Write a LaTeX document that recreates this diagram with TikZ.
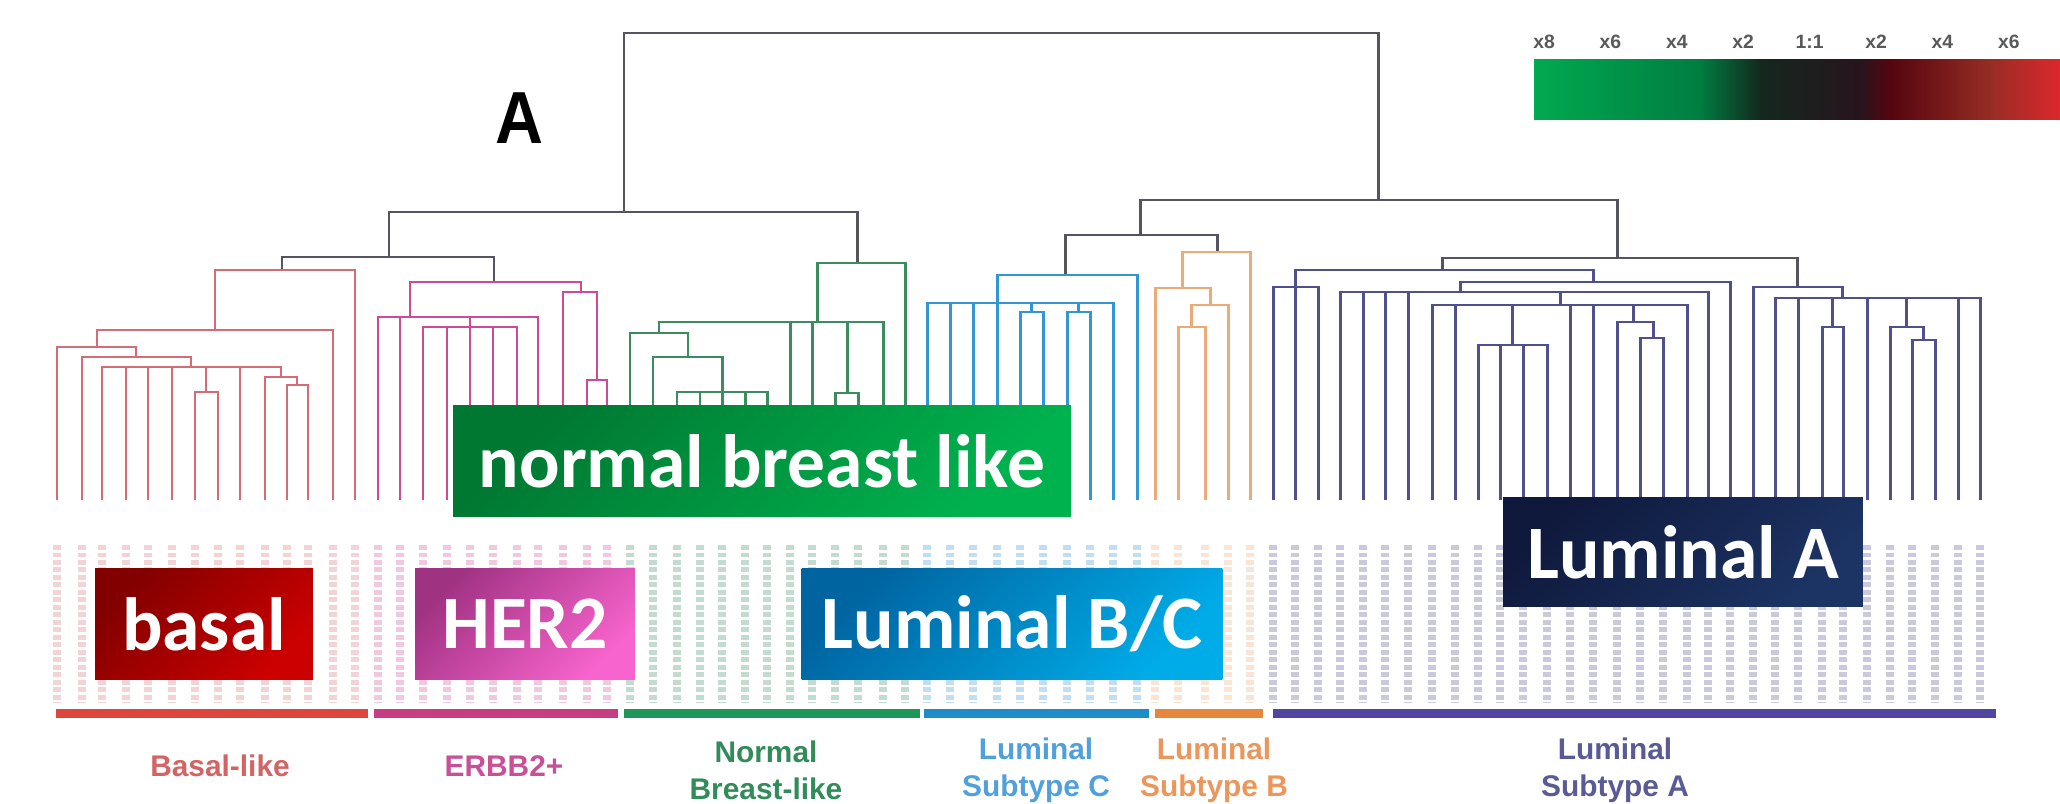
\documentclass[tikz,border=0pt]{standalone}
\usepackage{fontspec}
\setmainfont{Liberation Sans}
\newfontfamily\boxfont{Carlito}
\usepackage{tikz}
\usetikzlibrary{calc}

\definecolor{topgrey}{RGB}{85,85,95}
\definecolor{bascol}{RGB}{212,108,118}
\definecolor{hercol}{RGB}{205,75,150}
\definecolor{nrmcol}{RGB}{60,140,95}
\definecolor{lmccol}{RGB}{50,150,210}
\definecolor{lmbcol}{RGB}{235,170,120}
\definecolor{lmacol}{RGB}{80,80,140}

\tikzset{
  twig/.style={line width=1.7pt},
  tag/.style={line width=0.17cm, dash pattern=on 0.1cm off 0.05cm, opacity=0.3},
  bar/.style={line width=0.18cm},
  grp/.style={font=\fontsize{17}{21}\selectfont\bfseries, align=center, inner sep=0pt},
  lbox/.style={font=\boxfont\fontsize{43}{50}\selectfont\bfseries, text=white, inner sep=0pt,
    minimum height=2.22cm, shading angle=45},
  tick/.style={font=\fontsize{11}{12}\selectfont\bfseries, text=black!65, inner sep=0pt}
}

\begin{document}
\begin{tikzpicture}[x=0.02cm, y=-0.02cm]
	\useasboundingbox (0,0) rectangle (2060,804);

	% upper levels
	\draw[twig, topgrey] (624,212) |- (1378,33) -- (1378,200);
	\draw[twig, topgrey] (389,257) |- (857,212) -- (857,263);
	\draw[twig, topgrey] (1140,235) |- (1617,200) -- (1617,258);
	\draw[twig, topgrey] (282,270) |- (494,257) -- (494,282);
	\draw[twig, topgrey] (1065,275) |- (1217,235) -- (1217,252);
	\draw[twig, topgrey] (1442,270) |- (1797,258) -- (1797,287);

	% basal-like
	\draw[twig, bascol] (215,330) |- (355,270) -- (355,500);
	\draw[twig, bascol] (97,347) |- (333,330) -- (333,500);
	\draw[twig, bascol] (57,500) |- (136,347) -- (136,357);
	\draw[twig, bascol] (82,500) |- (191,357) -- (191,367);
	\draw[twig, bascol] (102,500) |- (281,367) -- (281,377);
	\foreach \x in {126,148,172,240}
		\draw[twig, bascol] (\x,367) -- (\x,500);
	\draw[twig, bascol] (206,367) -- (206,392);
	\draw[twig, bascol] (195,500) |- (218,392) -- (218,500);
	\draw[twig, bascol] (265,500) |- (297,377) -- (297,385);
	\draw[twig, bascol] (287,500) |- (308,385) -- (308,500);

	% ERBB2+
	\draw[twig, hercol] (410,317) |- (581,282) -- (581,292);
	\draw[twig, hercol] (378,500) |- (538,317) -- (538,500);
	\draw[twig, hercol] (400,317) -- (400,500);
	\draw[twig, hercol] (470,317) -- (470,327);
	\draw[twig, hercol] (423,500) |- (517,327) -- (517,500);
	\foreach \x in {447,470,493}
		\draw[twig, hercol] (\x,327) -- (\x,500);
	\draw[twig, hercol] (563,500) |- (597,292) -- (597,380);
	\draw[twig, hercol] (587,500) |- (607,380) -- (607,500);

	% normal breast-like
	\draw[twig, nrmcol] (817,322) |- (905,263) -- (905,500);
	\draw[twig, nrmcol] (659,333) |- (883,322) -- (883,500);
	\foreach \x in {790,812}
		\draw[twig, nrmcol] (\x,322) -- (\x,500);
	\draw[twig, nrmcol] (847,322) -- (847,393);
	\draw[twig, nrmcol] (835,500) |- (858,393) -- (858,500);
	\draw[twig, nrmcol] (630,500) |- (688,333) -- (688,357);
	\draw[twig, nrmcol] (653,500) |- (722,357) -- (722,392);
	\draw[twig, nrmcol] (677,500) |- (767,392) -- (767,500);
	\foreach \x in {700,722,745}
		\draw[twig, nrmcol] (\x,392) -- (\x,500);

	% luminal C
	\draw[twig, lmccol] (997,303) |- (1137,275) -- (1137,500);
	\draw[twig, lmccol] (927,500) |- (1113,303) -- (1113,500);
	\foreach \x in {950,973,997}
		\draw[twig, lmccol] (\x,303) -- (\x,500);
	\draw[twig, lmccol] (1031,303) -- (1031,312);
	\draw[twig, lmccol] (1020,500) |- (1043,312) -- (1043,500);
	\draw[twig, lmccol] (1078,303) -- (1078,312);
	\draw[twig, lmccol] (1067,500) |- (1090,312) -- (1090,500);

	% luminal B
	\draw[twig, lmbcol] (1182,288) |- (1250,252) -- (1250,500);
	\draw[twig, lmbcol] (1155,500) |- (1210,288) -- (1210,305);
	\draw[twig, lmbcol] (1191,327) |- (1228,305) -- (1228,500);
	\draw[twig, lmbcol] (1178,500) |- (1205,327) -- (1205,500);

	% luminal A
	\draw[twig, lmacol] (1295,287) |- (1593,270) -- (1593,282);
	\draw[twig, lmacol] (1273,500) |- (1318,287) -- (1318,500);
	\draw[twig, lmacol] (1295,287) -- (1295,500);
	\draw[twig, lmacol] (1460,292) |- (1730,282) -- (1730,500);
	\draw[twig, lmacol] (1340,500) |- (1708,292) -- (1708,500);
	\foreach \x in {1363,1385,1408}
		\draw[twig, lmacol] (\x,292) -- (\x,500);
	\draw[twig, lmacol] (1560,292) -- (1560,305);
	\draw[twig, lmacol] (1432,500) |- (1687,305) -- (1687,500);
	\foreach \x in {1455,1570,1593}
		\draw[twig, lmacol] (\x,305) -- (\x,500);
	\draw[twig, lmacol] (1512,305) -- (1512,345);
	\draw[twig, lmacol] (1478,500) |- (1547,345) -- (1547,500);
	\foreach \x in {1500,1523}
		\draw[twig, lmacol] (\x,345) -- (\x,500);
	\draw[twig, lmacol] (1633,305) -- (1633,322);
	\draw[twig, lmacol] (1617,500) |- (1653,322) -- (1653,338);
	\draw[twig, lmacol] (1640,500) |- (1663,338) -- (1663,500);
	\draw[twig, lmacol] (1753,500) |- (1842,287) -- (1842,298);
	\draw[twig, lmacol] (1775,500) |- (1980,298) -- (1980,500);
	\foreach \x in {1798,1867,1958}
		\draw[twig, lmacol] (\x,298) -- (\x,500);
	\draw[twig, lmacol] (1832,298) -- (1832,327);
	\draw[twig, lmacol] (1822,500) |- (1843,327) -- (1843,500);
	\draw[twig, lmacol] (1906,298) -- (1906,327);
	\draw[twig, lmacol] (1890,500) |- (1923,327) -- (1923,340);
	\draw[twig, lmacol] (1912,500) |- (1935,340) -- (1935,500);

	% sample columns
	\foreach \x in {57,82,102,126,148,172,195,218,240,265,287,308,333,355}
		\draw[tag, bascol] (\x,545) -- (\x,703);
	\foreach \x in {378,400,423,447,470,493,517,538,563,587,607}
		\draw[tag, hercol] (\x,545) -- (\x,703);
	\foreach \x in {630,653,677,700,722,745,767,790,812,835,858,883,905}
		\draw[tag, nrmcol] (\x,545) -- (\x,703);
	\foreach \x in {927,950,973,997,1020,1043,1067,1090,1113,1137}
		\draw[tag, lmccol] (\x,545) -- (\x,703);
	\foreach \x in {1155,1178,1205,1228,1250}
		\draw[tag, lmbcol] (\x,545) -- (\x,703);
	\foreach \x in {1273,1295,1318,1340,1363,1385,1408,1432,1455,1478,1500,1523,1547,1570,1593,1617,1640,1663,1687,1708,1730,1753,1775,1798,1822,1843,1867,1890,1912,1935,1958,1980}
		\draw[tag, lmacol] (\x,545) -- (\x,703);

	% subtype bars
	\draw[bar, color={rgb,255:red,220;green,70;blue,60}] (56,713) -- (368,713);
	\draw[bar, color={rgb,255:red,200;green,60;blue,130}] (374,713) -- (618,713);
	\draw[bar, color={rgb,255:red,30;green,150;blue,90}] (624,713) -- (920,713);
	\draw[bar, color={rgb,255:red,30;green,140;blue,200}] (924,713) -- (1149,713);
	\draw[bar, color={rgb,255:red,230;green,135;blue,60}] (1155,713) -- (1263,713);
	\draw[bar, color={rgb,255:red,80;green,70;blue,160}] (1273,713) -- (1996,713);

	\node[grp, text={rgb,255:red,210;green,100;blue,100}] (basallike) at (220,766) {Basal-like};
	\node[grp, text={rgb,255:red,200;green,80;blue,150}] (erbb) at (504,766) {ERBB2+};
	\node[grp, text={rgb,255:red,50;green,140;blue,90}] (normlbl) at (766,770) {Normal\\Breast-like};
	\node[grp, text={rgb,255:red,80;green,160;blue,220}] (lumclbl) at (1036,770) {Luminal\\Subtype C};
	\node[grp, text={rgb,255:red,235;green,150;blue,90}] (lumblbl) at (1214,770) {Luminal\\Subtype B};
	\node[grp, text={rgb,255:red,90;green,90;blue,150}] (lumalbl) at (1615,770) {Luminal\\Subtype A};

	% colour scale
	\shade[left color={rgb,255:red,0;green,170;blue,80}, right color={rgb,255:red,0;green,125;blue,65}] (1534,60) rectangle (1701,120);
	\shade[left color={rgb,255:red,0;green,125;blue,65}, right color={rgb,255:red,20;green,40;blue,30}] (1700,60) rectangle (1761,120);
	\shade[left color={rgb,255:red,20;green,40;blue,30}, right color={rgb,255:red,40;green,20;blue,30}] (1760,60) rectangle (1861,120);
	\shade[left color={rgb,255:red,40;green,20;blue,30}, right color={rgb,255:red,85;green,5;blue,15}] (1860,60) rectangle (1891,120);
	\shade[left color={rgb,255:red,85;green,5;blue,15}, right color={rgb,255:red,150;green,45;blue,35}] (1890,60) rectangle (1991,120);
	\shade[left color={rgb,255:red,150;green,45;blue,35}, right color={rgb,255:red,220;green,40;blue,45}] (1990,60) rectangle (2060,120);
	\foreach \t [count=\i] in {x8,x6,x4,x2,1:1,x2,x4,x6}
		\node[tick] (tick\i) at ({1544+66.4*(\i-1)},42) {\t};

	\node[font=\fontsize{42}{50}\selectfont\bfseries, inner sep=0pt] (titleA) at (519,118) {\scalebox{0.9}[1]{A}};

	% subtype boxes
	\node[lbox, minimum width=12.36cm, left color={rgb,255:red,0;green,120;blue,50}, right color={rgb,255:red,0;green,178;blue,78}, shading angle=45] (normal) at (762,461) {normal breast like};
	\node[lbox, minimum width=4.36cm, left color={rgb,255:red,130;green,0;blue,0}, right color={rgb,255:red,205;green,0;blue,0}, shading angle=45] (basal) at (204,624) {basal};
	\node[lbox, minimum width=4.4cm, left color={rgb,255:red,160;green,50;blue,130}, right color={rgb,255:red,248;green,100;blue,205}, shading angle=45] (her2) at (525,624) {HER2};
	\node[lbox, minimum width=8.42cm, left color={rgb,255:red,0;green,100;blue,160}, right color={rgb,255:red,0;green,172;blue,232}, shading angle=45] (lumbc) at (1012,624) {Luminal B/C};
	\node[lbox, minimum width=7.2cm, minimum height=2.2cm, left color={rgb,255:red,15;green,25;blue,60}, right color={rgb,255:red,28;green,52;blue,100}, shading angle=45] (luma) at (1683,552) {Luminal A};
\end{tikzpicture}
\end{document}
